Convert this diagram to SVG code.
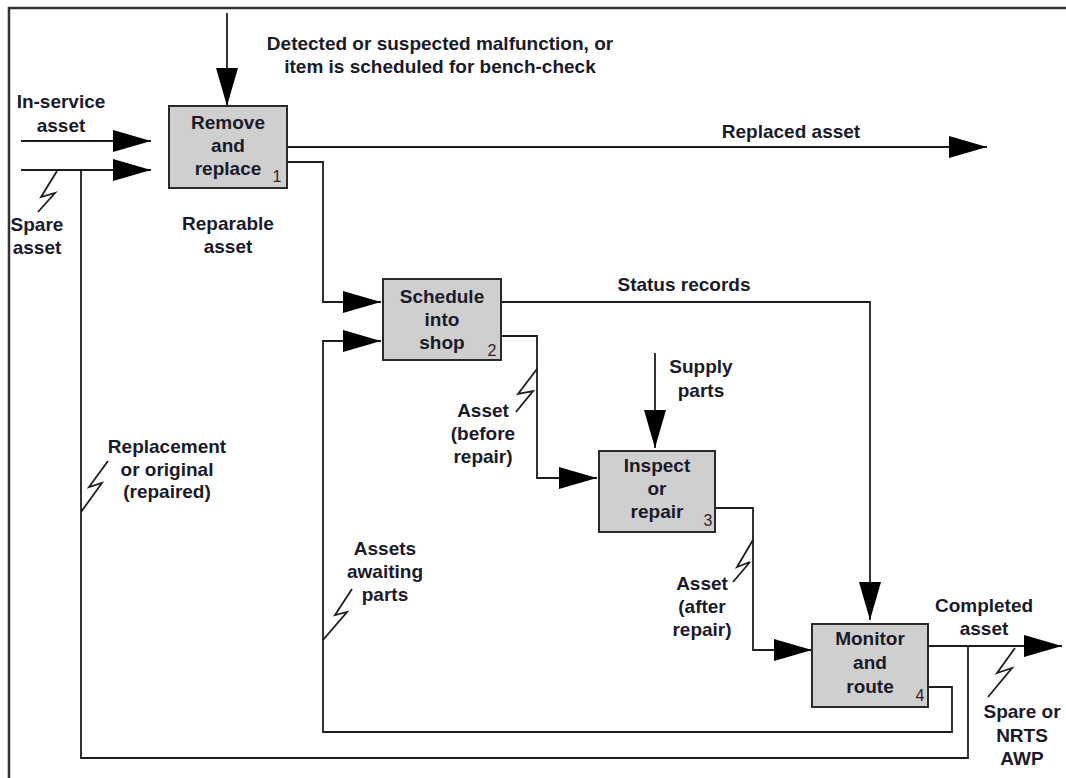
<svg xmlns="http://www.w3.org/2000/svg" width="1066" height="778" viewBox="0 0 1066 778">
  <style>
    .box { fill: #cfcfcf; stroke: #2a2a2a; stroke-width: 2; }
    .lbl { font-family: "Liberation Sans", Arial, sans-serif; font-weight: bold; font-size: 19px; fill: #1a1a2a; text-anchor: middle; }
    .num { font-family: "Liberation Sans", Arial, sans-serif; font-size: 16px; fill: #3a1a22; text-anchor: middle; }
    .ln { fill: none; stroke: #1e1e1e; stroke-width: 1.8; }
    .arr { marker-end: url(#head); }
    .frame { fill: none; stroke: #333; stroke-width: 2.5; }
  </style>
  <defs>
    <marker id="head" markerUnits="userSpaceOnUse" markerWidth="40" markerHeight="23" refX="38" refY="11" orient="auto">
      <path d="M0,0 L38,11 L0,22 Z" fill="#000"/>
    </marker>
  </defs>

  <rect width="1066" height="778" fill="#fff"/>

  <!-- page frame -->
  <g id="frame">
    <polyline class="frame" points="9,778 9,8 1066,8"/>
  </g>

  <!-- connectors -->
  <g id="connectors">
    <line class="ln arr" x1="227" y1="13" x2="227" y2="106"/>
    <line class="ln arr" x1="21" y1="141" x2="151" y2="141"/>
    <line class="ln arr" x1="21" y1="170" x2="151" y2="170"/>
    <polyline class="ln" points="81,170 81,758 968,758 968,646"/>
    <line class="ln arr" x1="287" y1="147" x2="987" y2="147"/>
    <polyline class="ln arr" points="287,162 323,162 323,302 381,302"/>
    <polyline class="ln arr" points="928,687 952,687 952,732 323,732 323,341 381,341"/>
    <polyline class="ln arr" points="501,302 870,302 870,620"/>
    <polyline class="ln arr" points="501,336 537,336 537,478 597,478"/>
    <line class="ln arr" x1="655" y1="353" x2="655" y2="448"/>
    <polyline class="ln arr" points="715,508 753,508 753,650 812,650"/>
    <line class="ln arr" x1="928" y1="646" x2="1062" y2="646"/>

    <!-- lightning ticks tying labels to flows -->
    <polyline class="ln" points="57,171 41,197 55,193 38,212"/>
    <polyline class="ln" points="81,512 102,483 89,487 108,461"/>
    <polyline class="ln" points="323,640 347,612 335,615 352,589"/>
    <polyline class="ln" points="537,369 518,394 533,391 516,412"/>
    <polyline class="ln" points="753,540 737,567 750,562 733,582"/>
    <polyline class="ln" points="1015,648 997,673 1012,668 988,697"/>
  </g>

  <!-- activity boxes -->
  <g id="node-remove-replace">
    <rect class="box" x="169" y="106" width="118" height="82"/>
    <text class="lbl" x="228" y="129">Remove</text>
    <text class="lbl" x="228" y="152">and</text>
    <text class="lbl" x="228" y="175">replace</text>
    <text class="num" x="277" y="182">1</text>
  </g>
  <g id="node-schedule">
    <rect class="box" x="383" y="279" width="118" height="81"/>
    <text class="lbl" x="442" y="303">Schedule</text>
    <text class="lbl" x="442" y="326">into</text>
    <text class="lbl" x="442" y="349">shop</text>
    <text class="num" x="492" y="356">2</text>
  </g>
  <g id="node-inspect">
    <rect class="box" x="599" y="451" width="116" height="81"/>
    <text class="lbl" x="657" y="472">Inspect</text>
    <text class="lbl" x="657" y="495">or</text>
    <text class="lbl" x="657" y="518">repair</text>
    <text class="num" x="708" y="526">3</text>
  </g>
  <g id="node-monitor">
    <rect class="box" x="812" y="624" width="116" height="83"/>
    <text class="lbl" x="870" y="645">Monitor</text>
    <text class="lbl" x="870" y="669">and</text>
    <text class="lbl" x="870" y="693">route</text>
    <text class="num" x="920" y="701">4</text>
  </g>

  <!-- flow labels -->
  <g id="labels">
    <text class="lbl" x="440" y="50">Detected or suspected malfunction, or</text>
    <text class="lbl" x="440" y="73">item is scheduled for bench-check</text>
    <text class="lbl" x="61" y="108">In-service</text>
    <text class="lbl" x="61" y="132">asset</text>
    <text class="lbl" x="37" y="231">Spare</text>
    <text class="lbl" x="37" y="254">asset</text>
    <text class="lbl" x="228" y="230">Reparable</text>
    <text class="lbl" x="228" y="253">asset</text>
    <text class="lbl" x="791" y="138">Replaced asset</text>
    <text class="lbl" x="684" y="291">Status records</text>
    <text class="lbl" x="701" y="373">Supply</text>
    <text class="lbl" x="701" y="397">parts</text>
    <text class="lbl" x="483" y="417">Asset</text>
    <text class="lbl" x="483" y="440">(before</text>
    <text class="lbl" x="483" y="463">repair)</text>
    <text class="lbl" x="167" y="453">Replacement</text>
    <text class="lbl" x="167" y="476">or original</text>
    <text class="lbl" x="167" y="498">(repaired)</text>
    <text class="lbl" x="385" y="555">Assets</text>
    <text class="lbl" x="385" y="578">awaiting</text>
    <text class="lbl" x="385" y="601">parts</text>
    <text class="lbl" x="702" y="590">Asset</text>
    <text class="lbl" x="702" y="613">(after</text>
    <text class="lbl" x="702" y="636">repair)</text>
    <text class="lbl" x="984" y="612">Completed</text>
    <text class="lbl" x="984" y="635">asset</text>
    <text class="lbl" x="1022" y="718">Spare or</text>
    <text class="lbl" x="1022" y="742">NRTS</text>
    <text class="lbl" x="1022" y="765">AWP</text>
  </g>
</svg>
